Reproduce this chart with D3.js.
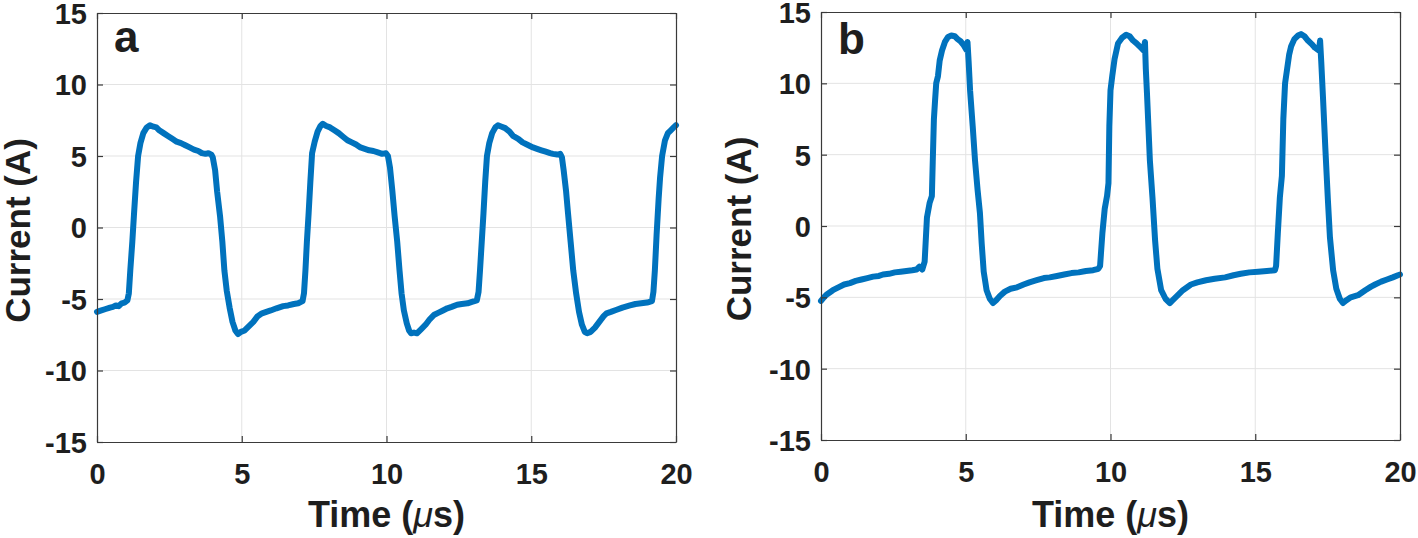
<!DOCTYPE html>
<html>
<head>
<meta charset="utf-8">
<script src="https://cdn.jsdelivr.net/npm/d3@7"></script>
<style>
  html, body { margin: 0; padding: 0; background: #fff; }
  svg { display: block; }
  text { font-family: "Liberation Sans", Arial, sans-serif; font-weight: bold; fill: #1e1e1e; }
</style>
</head>
<body>
<svg id="chart" width="1418" height="538"></svg>
<script>
// ---------------- DATA ----------------
const xTicks = [0, 5, 10, 15, 20];
const yTicks = [-15, -10, -5, 0, 5, 10, 15];
const panelLabels = ["a", "b"];
const xTitle = "Time (";
const xTitleUnit = "\u03bc";
const yTitle = "Current (A)";

// Panel a : time (µs) / current (A)
const timeA = [0.00,0.15,0.30,0.45,0.55,0.65,0.75,0.85,0.95,1.05,1.10,1.15,1.22,1.28,1.35,1.42,1.50,1.60,1.72,1.83,1.95,2.05,2.15,2.30,2.45,2.60,2.75,2.90,3.05,3.20,3.35,3.50,3.62,3.75,3.85,3.95,4.00,4.08,4.15,4.25,4.33,4.40,4.48,4.58,4.68,4.78,4.87,4.97,5.10,5.25,5.40,5.55,5.70,5.85,6.00,6.20,6.43,6.60,6.80,6.95,7.10,
  7.15,7.20,7.25,7.31,7.37,7.43,7.52,7.62,7.72,7.80,7.92,8.05,8.20,8.35,8.50,8.65,8.80,8.95,9.10,9.25,9.40,9.55,9.70,9.85,9.98,10.05,10.12,10.20,10.28,10.37,10.45,10.52,10.60,10.70,10.78,10.85,10.95,11.05,11.20,11.35,11.50,11.65,11.80,11.95,12.10,12.25,12.44,12.60,12.80,12.95,13.12,
  13.18,13.23,13.29,13.35,13.41,13.47,13.55,13.65,13.76,13.85,13.98,14.10,14.25,14.37,14.55,14.70,14.85,15.06,15.20,15.35,15.50,15.65,15.75,15.90,16.00,16.06,16.12,16.20,16.27,16.36,16.45,16.55,16.65,16.75,16.85,16.93,17.05,17.20,17.35,17.50,17.60,17.75,17.95,18.15,18.41,18.60,18.80,19.00,19.17,
  19.22,19.27,19.33,19.40,19.45,19.52,19.62,19.72,19.82,19.92,20.00];
const currentA = [-5.90,-5.80,-5.70,-5.60,-5.55,-5.45,-5.50,-5.30,-5.25,-5.10,-4.60,-3.00,-1.00,1.00,3.20,5.00,5.90,6.60,7.00,7.15,7.05,7.00,6.80,6.60,6.40,6.20,6.00,5.90,5.75,5.60,5.45,5.35,5.20,5.15,5.20,5.10,4.90,4.00,2.50,0.80,-1.00,-3.00,-4.40,-5.60,-6.60,-7.20,-7.45,-7.30,-7.20,-6.90,-6.60,-6.20,-6.00,-5.90,-5.80,-5.65,-5.50,-5.45,-5.35,-5.30,-5.15,
  -4.60,-3.00,-1.00,1.00,3.20,5.20,6.00,6.70,7.10,7.25,7.10,7.00,6.80,6.60,6.35,6.10,5.95,5.80,5.60,5.50,5.40,5.35,5.25,5.15,5.20,5.00,4.20,2.60,0.80,-1.00,-3.00,-4.60,-5.80,-6.70,-7.20,-7.40,-7.35,-7.40,-7.10,-6.80,-6.40,-6.10,-5.95,-5.80,-5.65,-5.55,-5.40,-5.35,-5.30,-5.20,-5.10,
  -4.50,-3.00,-1.00,1.00,3.20,5.00,5.90,6.60,7.00,7.15,7.05,6.95,6.70,6.40,6.20,5.95,5.80,5.60,5.50,5.40,5.30,5.20,5.15,5.10,5.15,4.90,4.00,2.60,1.00,-1.00,-3.00,-4.60,-5.90,-6.80,-7.30,-7.40,-7.30,-7.00,-6.60,-6.20,-6.00,-5.90,-5.75,-5.60,-5.45,-5.35,-5.30,-5.25,-5.15,
  -4.50,-3.00,-0.50,2.00,3.50,5.00,6.10,6.60,6.80,7.00,7.15];

// Panel b : time (µs) / current (A)
const timeB = [0.00,0.10,0.20,0.41,0.60,0.80,1.00,1.20,1.40,1.60,1.80,2.00,2.14,2.35,2.55,2.75,2.95,3.15,3.30,3.40,3.50,3.58,3.66,3.75,3.83,3.86,3.90,3.94,3.98,4.04,4.10,4.18,4.28,4.39,4.50,4.62,4.72,4.82,4.92,5.02,5.06,5.10,5.15,5.24,5.32,5.41,5.49,5.55,5.62,5.72,5.83,5.94,
  6.05,6.18,6.35,6.55,6.77,7.00,7.20,7.45,7.70,7.90,8.15,8.40,8.65,8.90,9.15,9.40,9.58,9.64,9.72,9.80,9.88,9.93,9.96,10.00,10.06,10.14,10.26,10.40,10.54,10.66,10.78,10.90,11.05,11.15,11.19,11.22,11.26,11.32,11.36,11.45,11.54,11.62,11.75,11.90,12.05,
  12.15,12.30,12.50,12.78,13.00,13.30,13.60,13.96,14.25,14.50,14.80,15.10,15.40,15.68,15.72,15.78,15.85,15.92,15.97,16.03,16.10,16.17,16.24,16.35,16.48,16.58,16.70,16.82,16.95,17.06,17.20,17.24,17.28,17.34,17.42,17.51,17.58,17.69,17.80,17.92,18.03,
  18.15,18.30,18.55,18.80,19.00,19.14,19.35,19.55,19.75,19.93,20.00];
const currentB = [-5.25,-5.00,-4.80,-4.50,-4.30,-4.10,-4.00,-3.85,-3.75,-3.65,-3.55,-3.50,-3.40,-3.35,-3.25,-3.20,-3.15,-3.10,-3.05,-2.85,-3.05,-2.50,0.60,1.60,2.10,4.50,7.50,8.80,10.00,10.50,11.60,12.30,12.90,13.25,13.35,13.30,13.10,12.95,12.70,12.35,12.90,11.50,9.50,7.00,4.60,2.50,0.90,-1.20,-3.20,-4.50,-5.10,-5.40,
  -5.20,-4.90,-4.60,-4.40,-4.30,-4.10,-3.95,-3.80,-3.65,-3.60,-3.50,-3.40,-3.30,-3.25,-3.15,-3.10,-3.00,-2.80,-0.50,1.20,2.10,3.00,7.00,9.50,10.50,11.70,12.80,13.20,13.40,13.30,13.00,12.80,12.50,12.30,12.90,11.00,9.30,6.50,4.60,2.00,-1.00,-3.00,-4.50,-5.10,-5.40,
  -5.20,-4.90,-4.50,-4.10,-3.95,-3.80,-3.70,-3.60,-3.45,-3.35,-3.25,-3.20,-3.15,-3.10,-2.80,-0.50,2.00,3.50,7.50,10.00,11.00,12.00,12.60,13.10,13.35,13.45,13.30,13.00,12.75,12.50,12.30,13.00,11.50,9.00,5.50,1.80,-0.80,-3.10,-4.40,-5.10,-5.40,
  -5.20,-5.00,-4.85,-4.50,-4.25,-4.10,-3.90,-3.75,-3.60,-3.45,-3.40];

// ---------------- DRAW ----------------
const svg = d3.select("#chart");
const lineColor = "#0072BD";
const fmt = d => String(d); // plain hyphen-minus, as in the reference

const panels = [
  { time: timeA, current: currentA, label: panelLabels[0], left: 97, right: 676, top: 13, bottom: 442, titleX: 30, labelY: 52 },
  { time: timeB, current: currentB, label: panelLabels[1], left: 821, right: 1400, top: 12, bottom: 440, titleX: 751, labelY: 54 }
];

panels.forEach(p => {
  const x = d3.scaleLinear().domain([0, 20]).range([p.left, p.right]);
  const y = d3.scaleLinear().domain([-15, 15]).range([p.bottom, p.top]);
  const g = svg.append("g");

  // grid
  g.append("g").selectAll("line").data(xTicks.slice(1, -1)).join("line")
    .attr("x1", d => x(d)).attr("x2", d => x(d)).attr("y1", p.top).attr("y2", p.bottom)
    .attr("stroke", "#e3e3e3").attr("stroke-width", 1);
  g.append("g").selectAll("line").data(yTicks.slice(1, -1)).join("line")
    .attr("y1", d => y(d)).attr("y2", d => y(d)).attr("x1", p.left).attr("x2", p.right)
    .attr("stroke", "#e3e3e3").attr("stroke-width", 1);

  // data line
  const pts = p.time.map((t, i) => [t, p.current[i]]);
  g.append("path").datum(pts)
    .attr("fill", "none").attr("stroke", lineColor).attr("stroke-width", 6)
    .attr("stroke-linejoin", "round").attr("stroke-linecap", "round")
    .attr("d", d3.line().x(d => x(d[0])).y(d => y(d[1])));

  // axes
  const axB = g.append("g").attr("transform", `translate(0,${p.bottom})`)
    .call(d3.axisBottom(x).tickValues(xTicks).tickSizeInner(-6).tickSizeOuter(0).tickPadding(21).tickFormat(fmt));
  const axL = g.append("g").attr("transform", `translate(${p.left},0)`)
    .call(d3.axisLeft(y).tickValues(yTicks).tickSizeInner(-6).tickSizeOuter(0).tickPadding(10).tickFormat(fmt));
  const axT = g.append("g").attr("transform", `translate(0,${p.top})`)
    .call(d3.axisTop(x).tickValues(xTicks).tickSizeInner(-6).tickSizeOuter(0).tickFormat(""));
  const axR = g.append("g").attr("transform", `translate(${p.right},0)`)
    .call(d3.axisRight(y).tickValues(yTicks).tickSizeInner(-6).tickSizeOuter(0).tickFormat(""));
  [axB, axL, axT, axR].forEach(a => {
    a.select(".domain").attr("stroke", "#3a3a3a").attr("stroke-width", 1.2);
    a.selectAll(".tick line").attr("stroke", "#3a3a3a").attr("stroke-width", 1.2);
    a.selectAll(".tick text").style("font-family", "'Liberation Sans', Arial, sans-serif")
      .style("font-weight", "bold").style("font-size", "29px").attr("fill", "#1e1e1e");
  });
  axB.selectAll(".tick text").attr("dy", "0.71em");
  axL.selectAll(".tick text").attr("dy", "0.36em");

  // x title
  const xt = g.append("text").attr("x", (p.left + p.right) / 2).attr("y", 527)
    .attr("text-anchor", "middle").style("font-size", "36px");
  xt.append("tspan").text(xTitle);
  xt.append("tspan").text(xTitleUnit).style("font-style", "italic").style("font-weight", "normal");
  xt.append("tspan").text("s)");

  // y title
  g.append("text").attr("transform", `translate(${p.titleX},${(p.top + p.bottom) / 2 + 3}) rotate(-90)`)
    .attr("text-anchor", "middle").style("font-size", "35px").text(yTitle);

  // panel label
  g.append("text").attr("x", p.left + 17).attr("y", p.labelY).style("font-size", "44px").attr("fill", "#000").text(p.label);
});
</script>
</body>
</html>
